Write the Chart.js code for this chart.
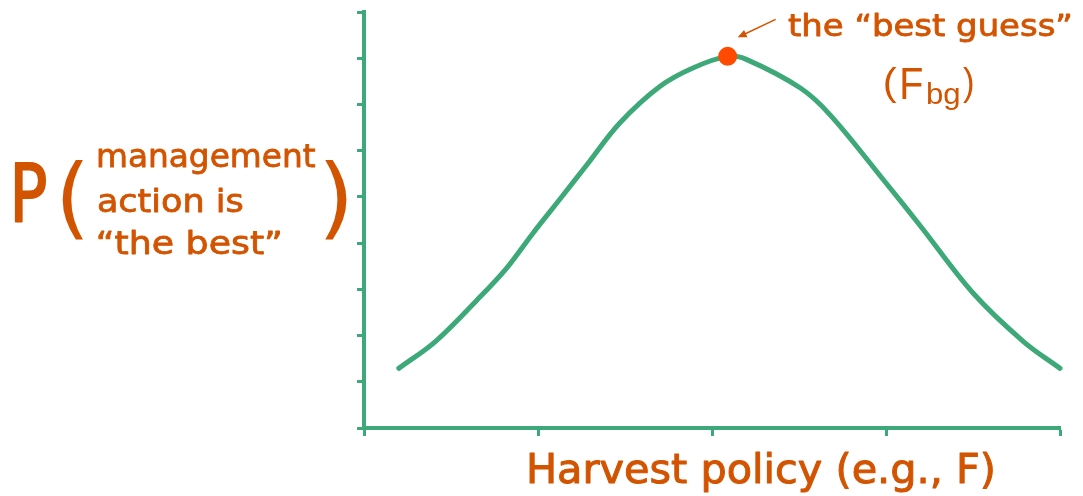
<!DOCTYPE html>
<html>
<head>
<meta charset="utf-8">
<title>Harvest policy</title>
<script src="https://cdn.jsdelivr.net/npm/chart.js@4.4.1/dist/chart.umd.min.js"></script>
<style>
  html, body { margin: 0; padding: 0; background: #ffffff; }
  #wrap { width: 1083px; height: 496px; }
</style>
</head>
<body>
<div id="wrap"><canvas id="chartPolicy" width="1083" height="496"></canvas></div>
<script>
// curve (arbitrary units, axes have no labels)
const policyX = [0.20, 0.41, 0.65, 0.82, 0.97, 1.13, 1.28, 1.47, 1.70, 1.89, 2.09, 2.20, 2.51, 2.68, 3.00, 3.20, 3.50, 3.79, 4.00];
const probBest = [1.29, 1.87, 2.77, 3.46, 4.21, 4.97, 5.69, 6.60, 7.39, 7.79, 8.04, 7.97, 7.35, 6.77, 5.30, 4.36, 2.92, 1.87, 1.29];

const bestGuessX = [2.09];
const bestGuessY = [8.04];

const xTickValues = [0, 1, 2, 3, 4];
const yTickValues = [0, 1, 2, 3, 4, 5, 6, 7, 8, 9];

const yLabelLines = ["management", "action is", "\u201cthe best\u201d"];
const xTitle = "Harvest policy (e.g., F)";
const bestGuessText = "the \u201cbest guess\u201d";

const verde = "#3da878";
const naranja = "#d35400";
const rojo = "#ff4a00";
const fuente = "'DejaVu Sans'";
const fuente2 = "'Liberation Sans'";

let chartPolicy = null;

document.addEventListener("DOMContentLoaded", function () {
  pintar();
});

// single glyph: ink fills the given box
function drawInk(ctx, text, left, right, top, bottom, family) {
  ctx.font = "100px " + family;
  let m = ctx.measureText(text);
  const h = m.actualBoundingBoxAscent + m.actualBoundingBoxDescent;
  const size = (100 * (bottom - top)) / h;
  ctx.font = size + "px " + family;
  m = ctx.measureText(text);
  const w = m.actualBoundingBoxLeft + m.actualBoundingBoxRight;
  const sx = (right - left) / w;
  ctx.save();
  ctx.translate(left, top + m.actualBoundingBoxAscent);
  ctx.scale(sx, 1);
  ctx.fillText(text, m.actualBoundingBoxLeft, 0);
  ctx.restore();
}

// a line of text at a given size and baseline, stretched to the given width
function drawLine(ctx, text, left, right, baseline, size, family, grosor) {
  ctx.font = size + "px " + family;
  const m = ctx.measureText(text);
  const w = m.actualBoundingBoxLeft + m.actualBoundingBoxRight;
  const sx = (right - left) / w;
  ctx.save();
  ctx.translate(left, baseline);
  ctx.scale(sx, 1);
  ctx.fillText(text, m.actualBoundingBoxLeft, 0);
  if (grosor) {
    ctx.lineWidth = grosor;
    ctx.lineJoin = "round";
    ctx.strokeText(text, m.actualBoundingBoxLeft, 0);
  }
  ctx.restore();
}

const textos = {
  id: "textos",
  afterDraw: function (chart) {
    const ctx = chart.ctx;
    ctx.save();
    ctx.fillStyle = naranja;
    ctx.strokeStyle = naranja;
    ctx.textAlign = "left";
    ctx.textBaseline = "alphabetic";

    // y label
    drawLine(ctx, "P", 15, 46, 222, 81, fuente, 2);
    drawInk(ctx, "(", 62, 83, 160, 240, fuente);
    drawLine(ctx, yLabelLines[0], 98, 315, 167, 32, fuente, 0.8);
    drawLine(ctx, yLabelLines[1], 98, 243, 212, 32, fuente, 0.8);
    drawLine(ctx, yLabelLines[2], 98, 280, 254, 32, fuente, 0.8);
    drawInk(ctx, ")", 325, 347, 160, 240, fuente);

    // x title
    drawLine(ctx, xTitle, 530, 993, 483, 41, fuente, 1);

    // best guess note
    drawLine(ctx, bestGuessText, 788, 1070, 36, 30, fuente, 0.8);
    drawInk(ctx, "(", 885, 897, 67, 103, fuente2);
    drawInk(ctx, "F", 902, 922, 68, 98, fuente2);
    drawInk(ctx, "bg", 927, 959, 82, 110, fuente2);
    drawInk(ctx, ")", 963, 973, 67, 103, fuente2);

    // arrow to the dot
    const px = chart.scales.x.getPixelForValue(bestGuessX[0]);
    const py = chart.scales.y.getPixelForValue(bestGuessY[0]);
    const tipX = px + 10;
    const tipY = py - 19;
    const tailX = px + 48;
    const tailY = py - 37;
    const ang = Math.atan2(tipY - tailY, tipX - tailX);
    ctx.lineWidth = 1.5;
    ctx.beginPath();
    ctx.moveTo(tailX, tailY);
    ctx.lineTo(tipX - 5 * Math.cos(ang), tipY - 5 * Math.sin(ang));
    ctx.stroke();
    ctx.beginPath();
    ctx.moveTo(tipX, tipY);
    ctx.lineTo(tipX - 9 * Math.cos(ang) + 4 * Math.sin(ang), tipY - 9 * Math.sin(ang) - 4 * Math.cos(ang));
    ctx.lineTo(tipX - 9 * Math.cos(ang) - 4 * Math.sin(ang), tipY - 9 * Math.sin(ang) + 4 * Math.cos(ang));
    ctx.closePath();
    ctx.fill();
    ctx.restore();
  }
};

function pintar() {
  const canvas = document.getElementById("chartPolicy");
  if (!canvas) return;
  const ctx = canvas.getContext("2d");
  if (chartPolicy) chartPolicy.destroy();

  const curva = [];
  for (let i = 0; i < policyX.length; i++) {
    curva.push({ x: policyX[i], y: probBest[i] });
  }
  const punto = [];
  for (let i = 0; i < bestGuessX.length; i++) {
    punto.push({ x: bestGuessX[i], y: bestGuessY[i] });
  }

  chartPolicy = new Chart(ctx, {
    type: "line",
    data: {
      datasets: [
        {
          label: "best guess",
          data: punto,
          showLine: false,
          pointRadius: 9.5,
          pointBackgroundColor: rojo,
          pointBorderWidth: 0,
          clip: false,
          order: 0
        },
        {
          label: "P",
          data: curva,
          borderColor: verde,
          borderWidth: 5,
          borderCapStyle: "round",
          pointRadius: 0,
          tension: 0.35,
          fill: false,
          clip: false,
          order: 1
        }
      ]
    },
    plugins: [textos],
    options: {
      responsive: false,
      animation: false,
      layout: { padding: { left: 0, right: 23, top: 12, bottom: 0 } },
      plugins: {
        legend: { display: false },
        title: { display: false },
        tooltip: { enabled: false }
      },
      scales: {
        x: {
          type: "linear",
          min: 0,
          max: 4,
          afterBuildTicks: function (scale) {
            scale.ticks = xTickValues.map(function (v) { return { value: v }; });
          },
          afterFit: function (scale) {
            scale.height = 68;
          },
          ticks: { display: false },
          grid: {
            drawOnChartArea: false,
            tickLength: 8,
            tickColor: verde,
            tickWidth: 3,
            color: verde
          },
          border: { color: verde, width: 4 }
        },
        y: {
          type: "linear",
          min: 0,
          max: 9,
          afterBuildTicks: function (scale) {
            scale.ticks = yTickValues.map(function (v) { return { value: v }; });
          },
          afterFit: function (scale) {
            scale.width = 364;
          },
          ticks: { display: false },
          grid: {
            drawOnChartArea: false,
            tickLength: 7,
            tickColor: verde,
            tickWidth: 3,
            color: verde
          },
          border: { color: verde, width: 4 }
        }
      }
    }
  });
}
</script>
</body>
</html>
